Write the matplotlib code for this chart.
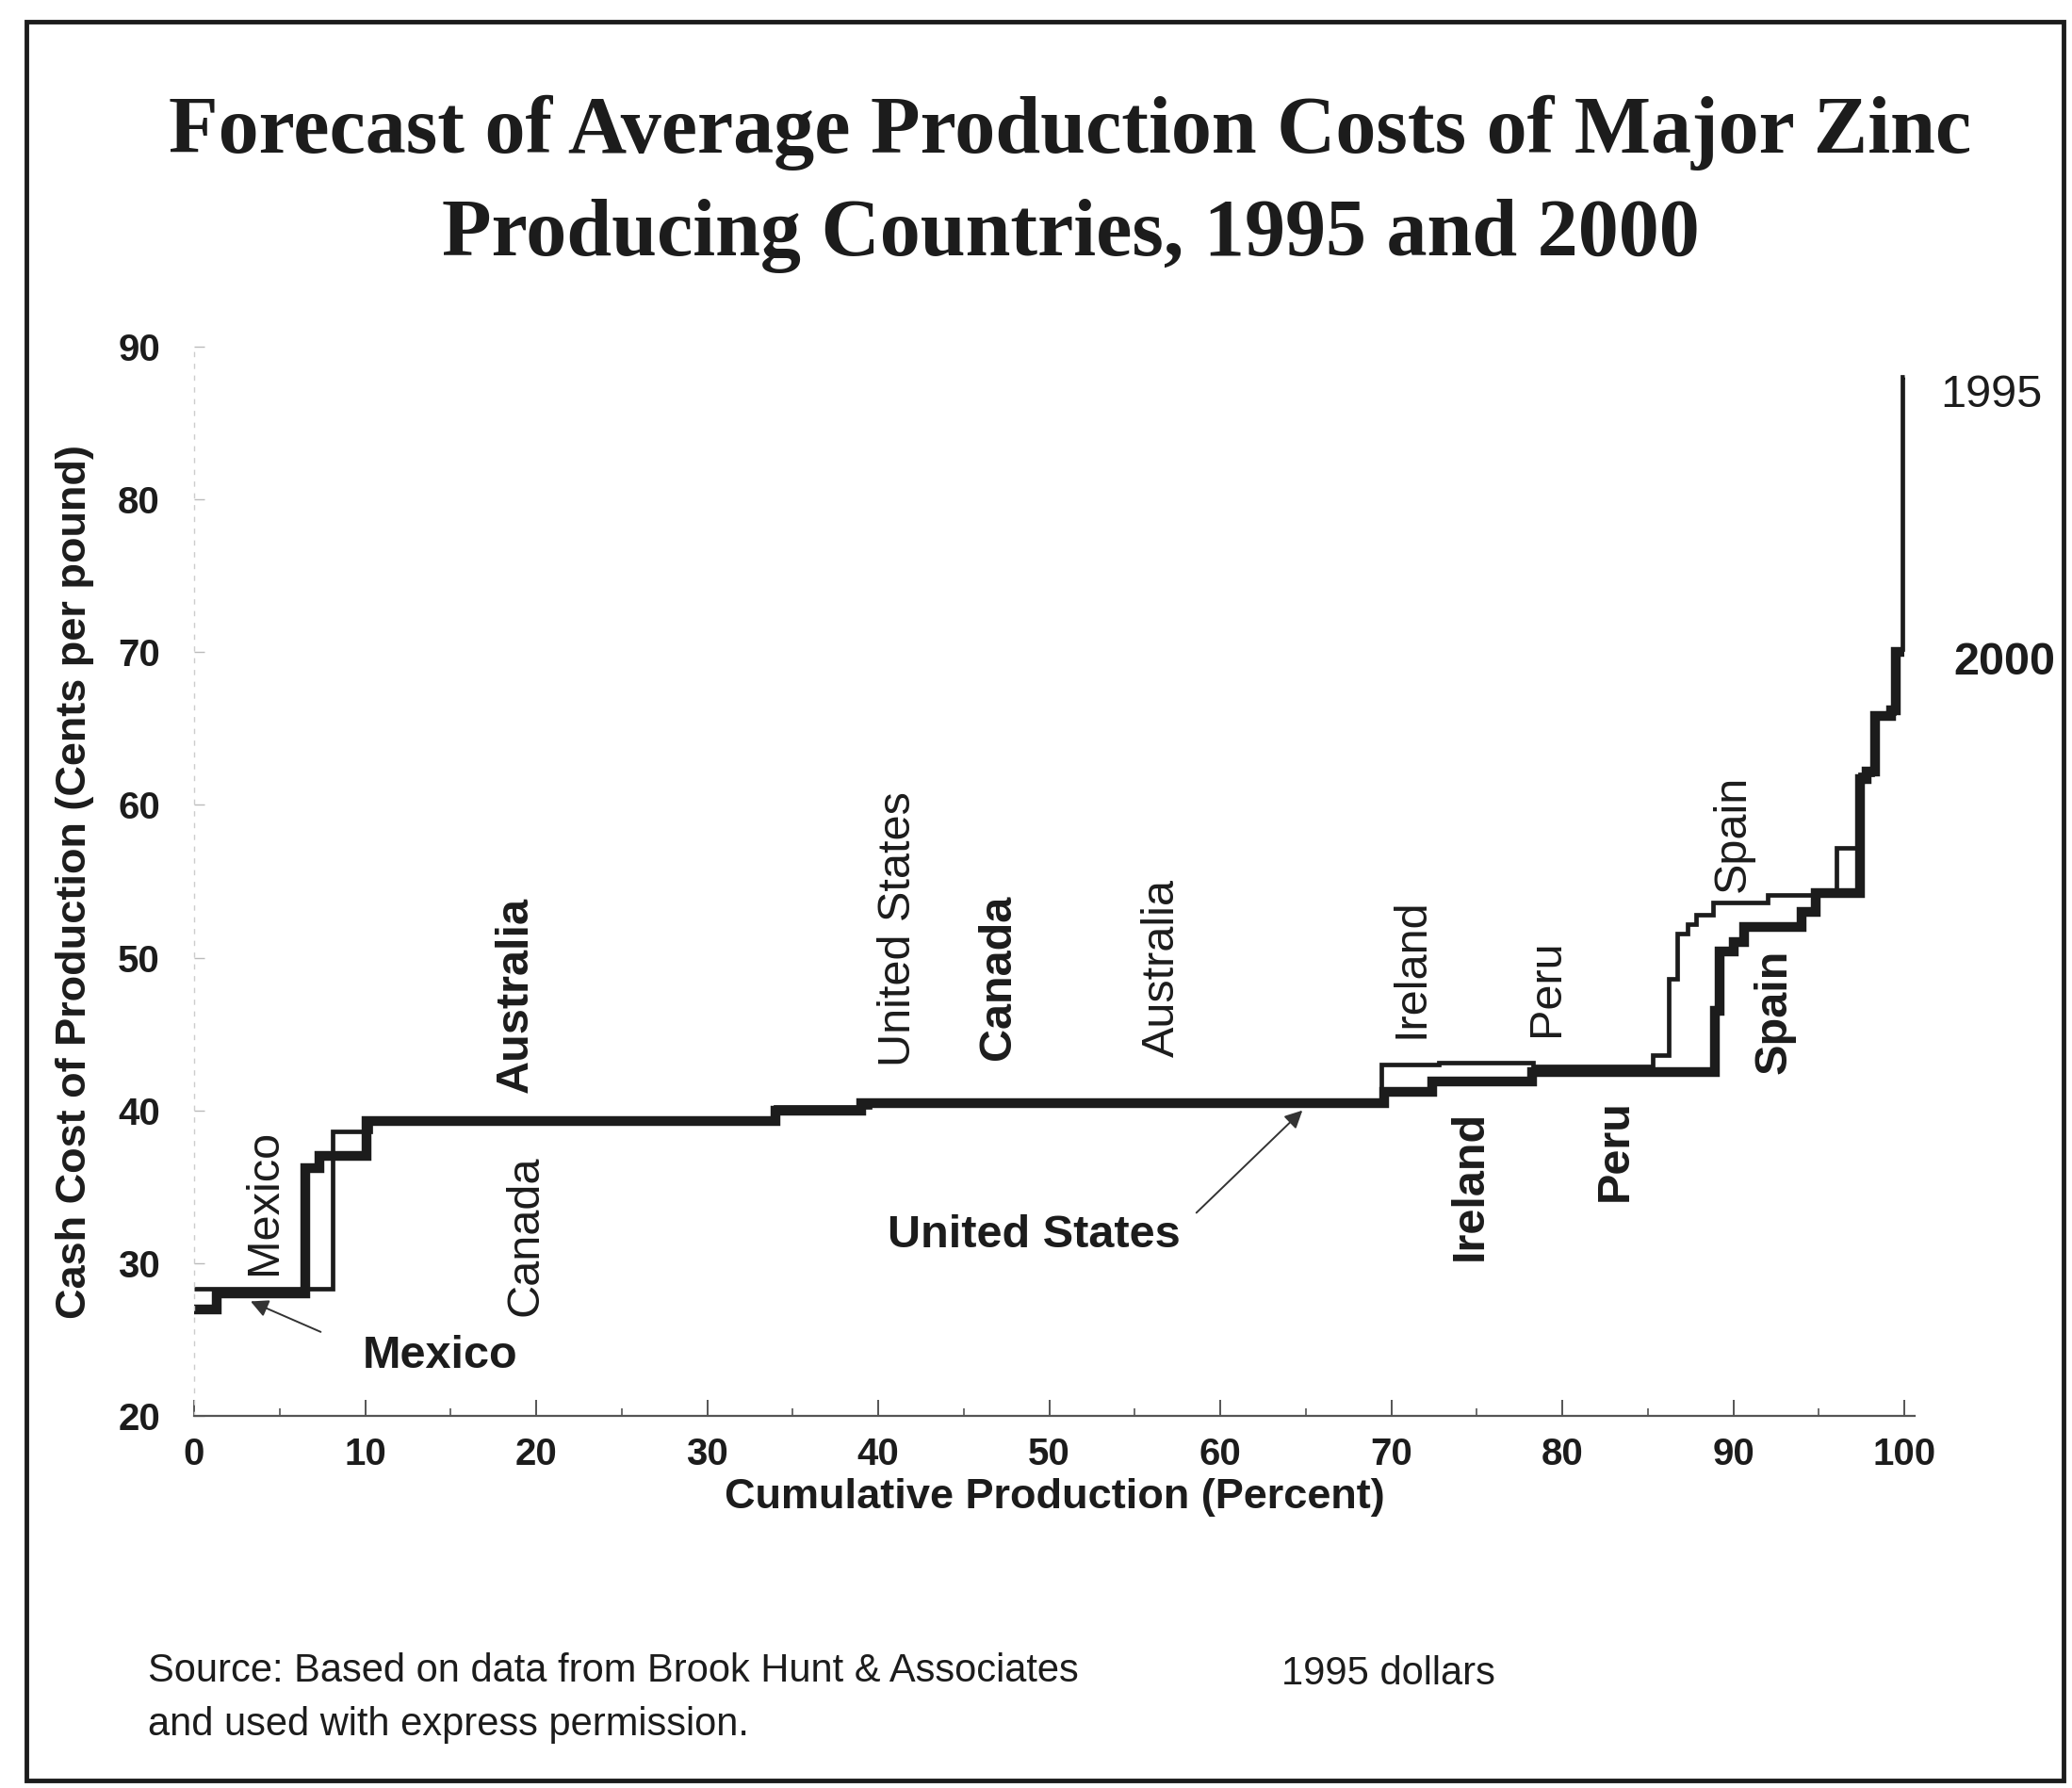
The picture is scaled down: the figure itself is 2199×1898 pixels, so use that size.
import matplotlib
matplotlib.use("Agg")
import matplotlib.pyplot as plt
from matplotlib.patches import Rectangle
from matplotlib.ticker import MultipleLocator

# 1995 curve (thin): step edges (cumulative %) and cash cost per step (cents/lb)
edges_1995 = [0, 8.1, 10.3, 34.0, 39.5, 69.4, 72.8, 78.3, 85.3, 86.2, 86.7,
              87.3, 87.8, 88.8, 92.0, 96.0, 97.4, 98.1, 99.4, 99.9, 100.0]
cost_1995 = [28.3, 38.6, 39.5, 40.2, 40.6, 43.0, 43.1, 42.9, 43.6, 48.6,
             51.6, 52.2, 52.8, 53.6, 54.1, 57.2, 62.0, 66.0, 70.2, 88.0]

# 2000 curve (thick)
edges_2000 = [0, 1.3, 6.5, 7.3, 10.1, 34.0, 39.0, 69.6, 72.4, 78.2, 88.9,
              89.2, 90.0, 90.6, 94.0, 94.8, 97.4, 97.8, 98.3, 99.2, 99.5, 100.0]
cost_2000 = [27.0, 28.0, 36.2, 37.0, 39.3, 40.0, 40.5, 41.2, 41.9, 42.5,
             46.5, 50.4, 51.0, 52.0, 53.0, 54.2, 61.7, 62.2, 65.8, 66.2, 70.0]

# country labels: (text, x, y)
labels_1995 = [("Mexico", 4.1, 34.0), ("Canada", 19.4, 31.8),
               ("United States", 41.2, 51.9), ("Australia", 56.6, 49.3),
               ("Ireland", 71.2, 49.3), ("Peru", 79.1, 48.0), ("Spain", 90.0, 58.1)]
labels_2000 = [("Australia", 18.8, 47.6), ("Canada", 47.0, 48.7),
               ("Ireland", 74.6, 35.1), ("Peru", 83.1, 37.4), ("Spain", 92.4, 46.5)]

xticks = list(range(0, 101, 10))
yticks = list(range(20, 91, 10))

SANS = "Liberation Sans"
SERIF = "Liberation Serif"
INK = "#1c1c1c"

fig = plt.figure(figsize=(21.99, 18.98), dpi=100)
ax = fig.add_axes([0.0937, 0.2081, 0.8304, 0.598])

ax.stairs(cost_1995, edges_1995, baseline=None, color=INK, lw=3.4)
ax.stairs(cost_2000, edges_2000, baseline=None, color=INK, lw=7.5)

ax.set_xlim(0, 100.6)
ax.set_ylim(20, 90)

for s in ("top", "right"):
    ax.spines[s].set_visible(False)
ax.spines["bottom"].set_color("#555555")
ax.spines["bottom"].set_linewidth(1.6)
ax.spines["left"].set_color("#cccccc")
ax.spines["left"].set_linewidth(1.0)
ax.spines["left"].set_linestyle((0, (3, 6)))

ax.set_xticks(xticks)
ax.set_yticks(yticks)
ax.xaxis.set_minor_locator(MultipleLocator(5))
ax.tick_params(axis="x", which="major", direction="in", length=12, width=1.4,
               color="#555555", pad=16)
ax.tick_params(axis="x", which="minor", direction="in", length=6, width=1.2,
               color="#555555")
ax.tick_params(axis="y", direction="in", length=8, width=1.0, color="#bbbbbb", pad=26)
for lab in ax.get_xticklabels() + ax.get_yticklabels():
    lab.set_fontfamily(SANS)
    lab.set_fontweight("bold")
    lab.set_fontsize(29)
    lab.set_color(INK)

ax.set_xlabel("Cumulative Production (Percent)", fontfamily=SANS, fontweight="bold",
              fontsize=32.5, color=INK, labelpad=4)
ax.set_ylabel("Cash Cost of Production (Cents per pound)", fontfamily=SANS,
              fontweight="bold", fontsize=32.5, color=INK, labelpad=18)

for txt, x, y in labels_1995:
    ax.text(x, y, txt, rotation=90, ha="center", va="center", fontfamily=SANS,
            fontsize=35, color=INK)
for txt, x, y in labels_2000:
    ax.text(x, y, txt, rotation=90, ha="center", va="center", fontfamily=SANS,
            fontweight="bold", fontsize=35, color=INK)

# horizontal labels with pointer lines
ax.text(14.4, 23.9, "Mexico", ha="center", va="center", fontfamily=SANS,
        fontweight="bold", fontsize=35, color=INK)
ax.annotate("", xy=(3.3, 27.5), xytext=(7.4, 25.5),
            arrowprops=dict(arrowstyle="-|>", color="#333333", lw=1.4,
                            mutation_scale=28, shrinkA=0, shrinkB=0))
ax.text(49.1, 31.8, "United States", ha="center", va="center", fontfamily=SANS,
        fontweight="bold", fontsize=35, color=INK)
ax.annotate("", xy=(64.8, 40.0), xytext=(58.6, 33.3),
            arrowprops=dict(arrowstyle="-|>", color="#333333", lw=1.4,
                            mutation_scale=28, shrinkA=0, shrinkB=0))

ax.text(102.1, 86.8, "1995", ha="left", va="center", fontfamily=SANS, fontsize=35,
        color=INK, clip_on=False)
ax.text(102.9, 69.3, "2000", ha="left", va="center", fontfamily=SANS,
        fontweight="bold", fontsize=35, color=INK, clip_on=False)

fig.text(0.5166, 0.926, "Forecast of Average Production Costs of Major Zinc",
         ha="center", va="center", fontfamily=SERIF, fontweight="bold", fontsize=62,
         color=INK)
fig.text(0.5166, 0.868, "Producing Countries, 1995 and 2000",
         ha="center", va="center", fontfamily=SERIF, fontweight="bold", fontsize=62,
         color=INK)

fig.text(0.0714, 0.0655, "Source: Based on data from Brook Hunt & Associates",
         ha="left", va="center", fontfamily=SANS, fontsize=30, color=INK)
fig.text(0.0714, 0.0355, "and used with express permission.",
         ha="left", va="center", fontfamily=SANS, fontsize=30, color=INK)
fig.text(0.6186, 0.0640, "1995 dollars", ha="left", va="center", fontfamily=SANS,
         fontsize=30, color=INK)

fig.add_artist(Rectangle((0.0127, 0.004), 0.983, 0.984, transform=fig.transFigure,
                         fill=False, lw=3.5, edgecolor=INK))

fig.savefig("out.png", dpi=100)
